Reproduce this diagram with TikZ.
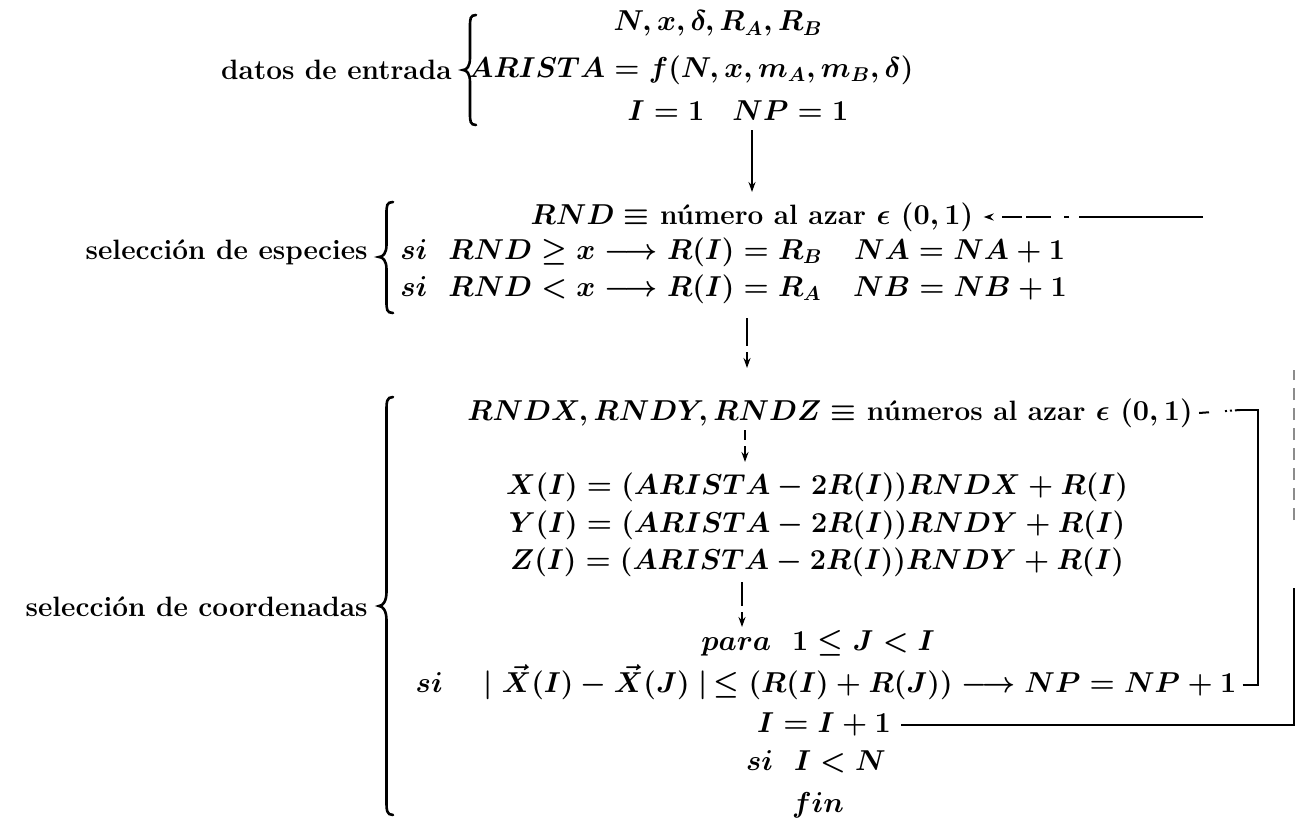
\documentclass[tikz,border=0pt]{standalone}
\usepackage{amsmath}
\usetikzlibrary{arrows.meta}
\tikzset{
  txt/.style={inner sep=0pt, font=\fontsize{14}{17}\selectfont\bfseries\boldmath},
  lbl/.style={txt, anchor=east},
  eq/.style={txt, anchor=center, text height=10pt, text depth=3pt},
  eqw/.style={eq, anchor=west},
  bracestyle/.style={line width=1.3pt, line cap=round},
  conn/.style={line width=1pt},
  arr/.style={conn, -{Stealth[length=5pt,width=3.5pt]}},
  faint/.style={line width=0.6pt, black!45, dash pattern=on 6pt off 4pt},
}
\begin{document}
\begin{tikzpicture}[x=0.5pt,y=-0.5pt]
\useasboundingbox (0,0) rectangle (1297,819);
% ---------- section 1
\node[lbl] (L1) at (452,70) {datos de entrada};
\draw[bracestyle] (476,15) .. controls (470,15) and (470,19) .. (470,27) -- (470,58)
  .. controls (470,66) and (467,70) .. (463,70) .. controls (467,70) and (470,74) .. (470,82)
  -- (470,113) .. controls (470,121) and (470,125) .. (476,125);
\node[eq] (s1a) at (718,24) {$N, x, \delta, R_A, R_B$};
\node[eq] (s1b) at (691,70) {$ARISTA = f(N, x, m_A, m_B, \delta)$};
\node[eq] (s1c) at (738,113) {$I = 1 \quad NP = 1$};
% ---------- section 2
\node[lbl] (L2) at (368,252) {selección de especies};
\draw[bracestyle] (393,202) .. controls (386.5,202) and (386.5,206) .. (386.5,214) -- (386.5,245)
  .. controls (386.5,253) and (383,257) .. (379,257) .. controls (383,257) and (386.5,261) .. (386.5,269)
  -- (386.5,301) .. controls (386.5,309) and (386.5,313) .. (393,313);
\node[eq] (s2a) at (752,217) {$RND \equiv$ número al azar $\epsilon\ (0,1)$};
\node[eqw] (s2b) at (400,252) {$si\ \ RND \geq x \longrightarrow R(I) = R_B \ \ \ NA = NA + 1$};
\node[eqw] (s2c) at (400,289) {$si\ \ RND < x \longrightarrow R(I) = R_A \ \ \ NB = NB + 1$};
% ---------- section 3
\node[lbl] (L3) at (368,607) {selección de coordenadas};
\draw[bracestyle] (393,397) .. controls (386.5,397) and (386.5,402) .. (386.5,411) -- (386.5,592)
  .. controls (386.5,601) and (383,606) .. (379,606) .. controls (383,606) and (386.5,611) .. (386.5,620)
  -- (386.5,801) .. controls (386.5,810) and (386.5,815) .. (393,815);
\node[eq] (s3a) at (830,413) {$RNDX, RNDY, RNDZ \equiv$ números al azar $\epsilon\ (0,1)$};
\node[eq] (s3b) at (817,487) {$X(I) = (ARISTA - 2R(I))RNDX + R(I)$};
\node[eq] (s3c) at (817,525) {$Y(I) = (ARISTA - 2R(I))RNDY + R(I)$};
\node[eq] (s3d) at (817,562) {$Z(I) = (ARISTA - 2R(I))RNDY + R(I)$};
\node[eq] (s3e) at (818,643) {$para\ \ 1 \leq J < I$};
\node[eq] (s3f) at (826,685) {$si\ \ \ \mid \vec{X}(I) - \vec{X}(J) \mid\, \leq (R(I) + R(J)) \longrightarrow NP = NP + 1$};
\node[eq] (s3g) at (824,725) {$I = I + 1$};
\node[eq] (s3h) at (816,763) {$si\ \ I < N$};
\node[eq] (s3i) at (818,805) {$fin$};
% ---------- connectors
\coordinate (a1s) at (752,130);
\coordinate (a1e) at (752,192);
\draw[arr] (a1s) -- (a1e);
\coordinate (a2s) at (747,318);
\coordinate (a2e) at (747,368);
\draw[arr, dash pattern=on 14pt off 3pt] (a2s) -- (a2e);
\coordinate (a3s) at (745,430);
\coordinate (a3e) at (745,462);
\draw[arr, dash pattern=on 5pt off 3pt] (a3s) -- (a3e);
\coordinate (a4s) at (742,582);
\coordinate (a4e) at (742,627);
\draw[arr, dash pattern=on 12pt off 3pt] (a4s) -- (a4e);
% return to RND
\coordinate (r2) at (1203,217);
\draw[arr, dash pattern=on 62pt off 5pt on 2.5pt off 6.5pt on 12.5pt off 2pt on 10pt] (r2) -- ([xshift=5pt]s2a.east);
% inner loop NP -> RNDX
\coordinate (c1) at (1258,685);
\coordinate (c2) at (1258,410);
\coordinate (c3) at (1240,410);
\draw[conn] ([xshift=3pt]s3f.east) -- (c1) -- (c2) -- (c3);
\draw[conn, dash pattern=on 5pt off 8pt on 1pt off 1.5pt on 1pt off 1.5pt on 20pt] ([xshift=3pt]s3a.east) -- (c3);
% outer loop I=I+1
\coordinate (o1) at (1294,725);
\coordinate (o2) at (1294,588);
\coordinate (o3) at (1294,520);
\coordinate (o4) at (1294,370);
\draw[conn] ([xshift=5pt]s3g.east) -- (o1) -- (o2);
\draw[faint] (o3) -- (o4);
\end{tikzpicture}
\end{document}
